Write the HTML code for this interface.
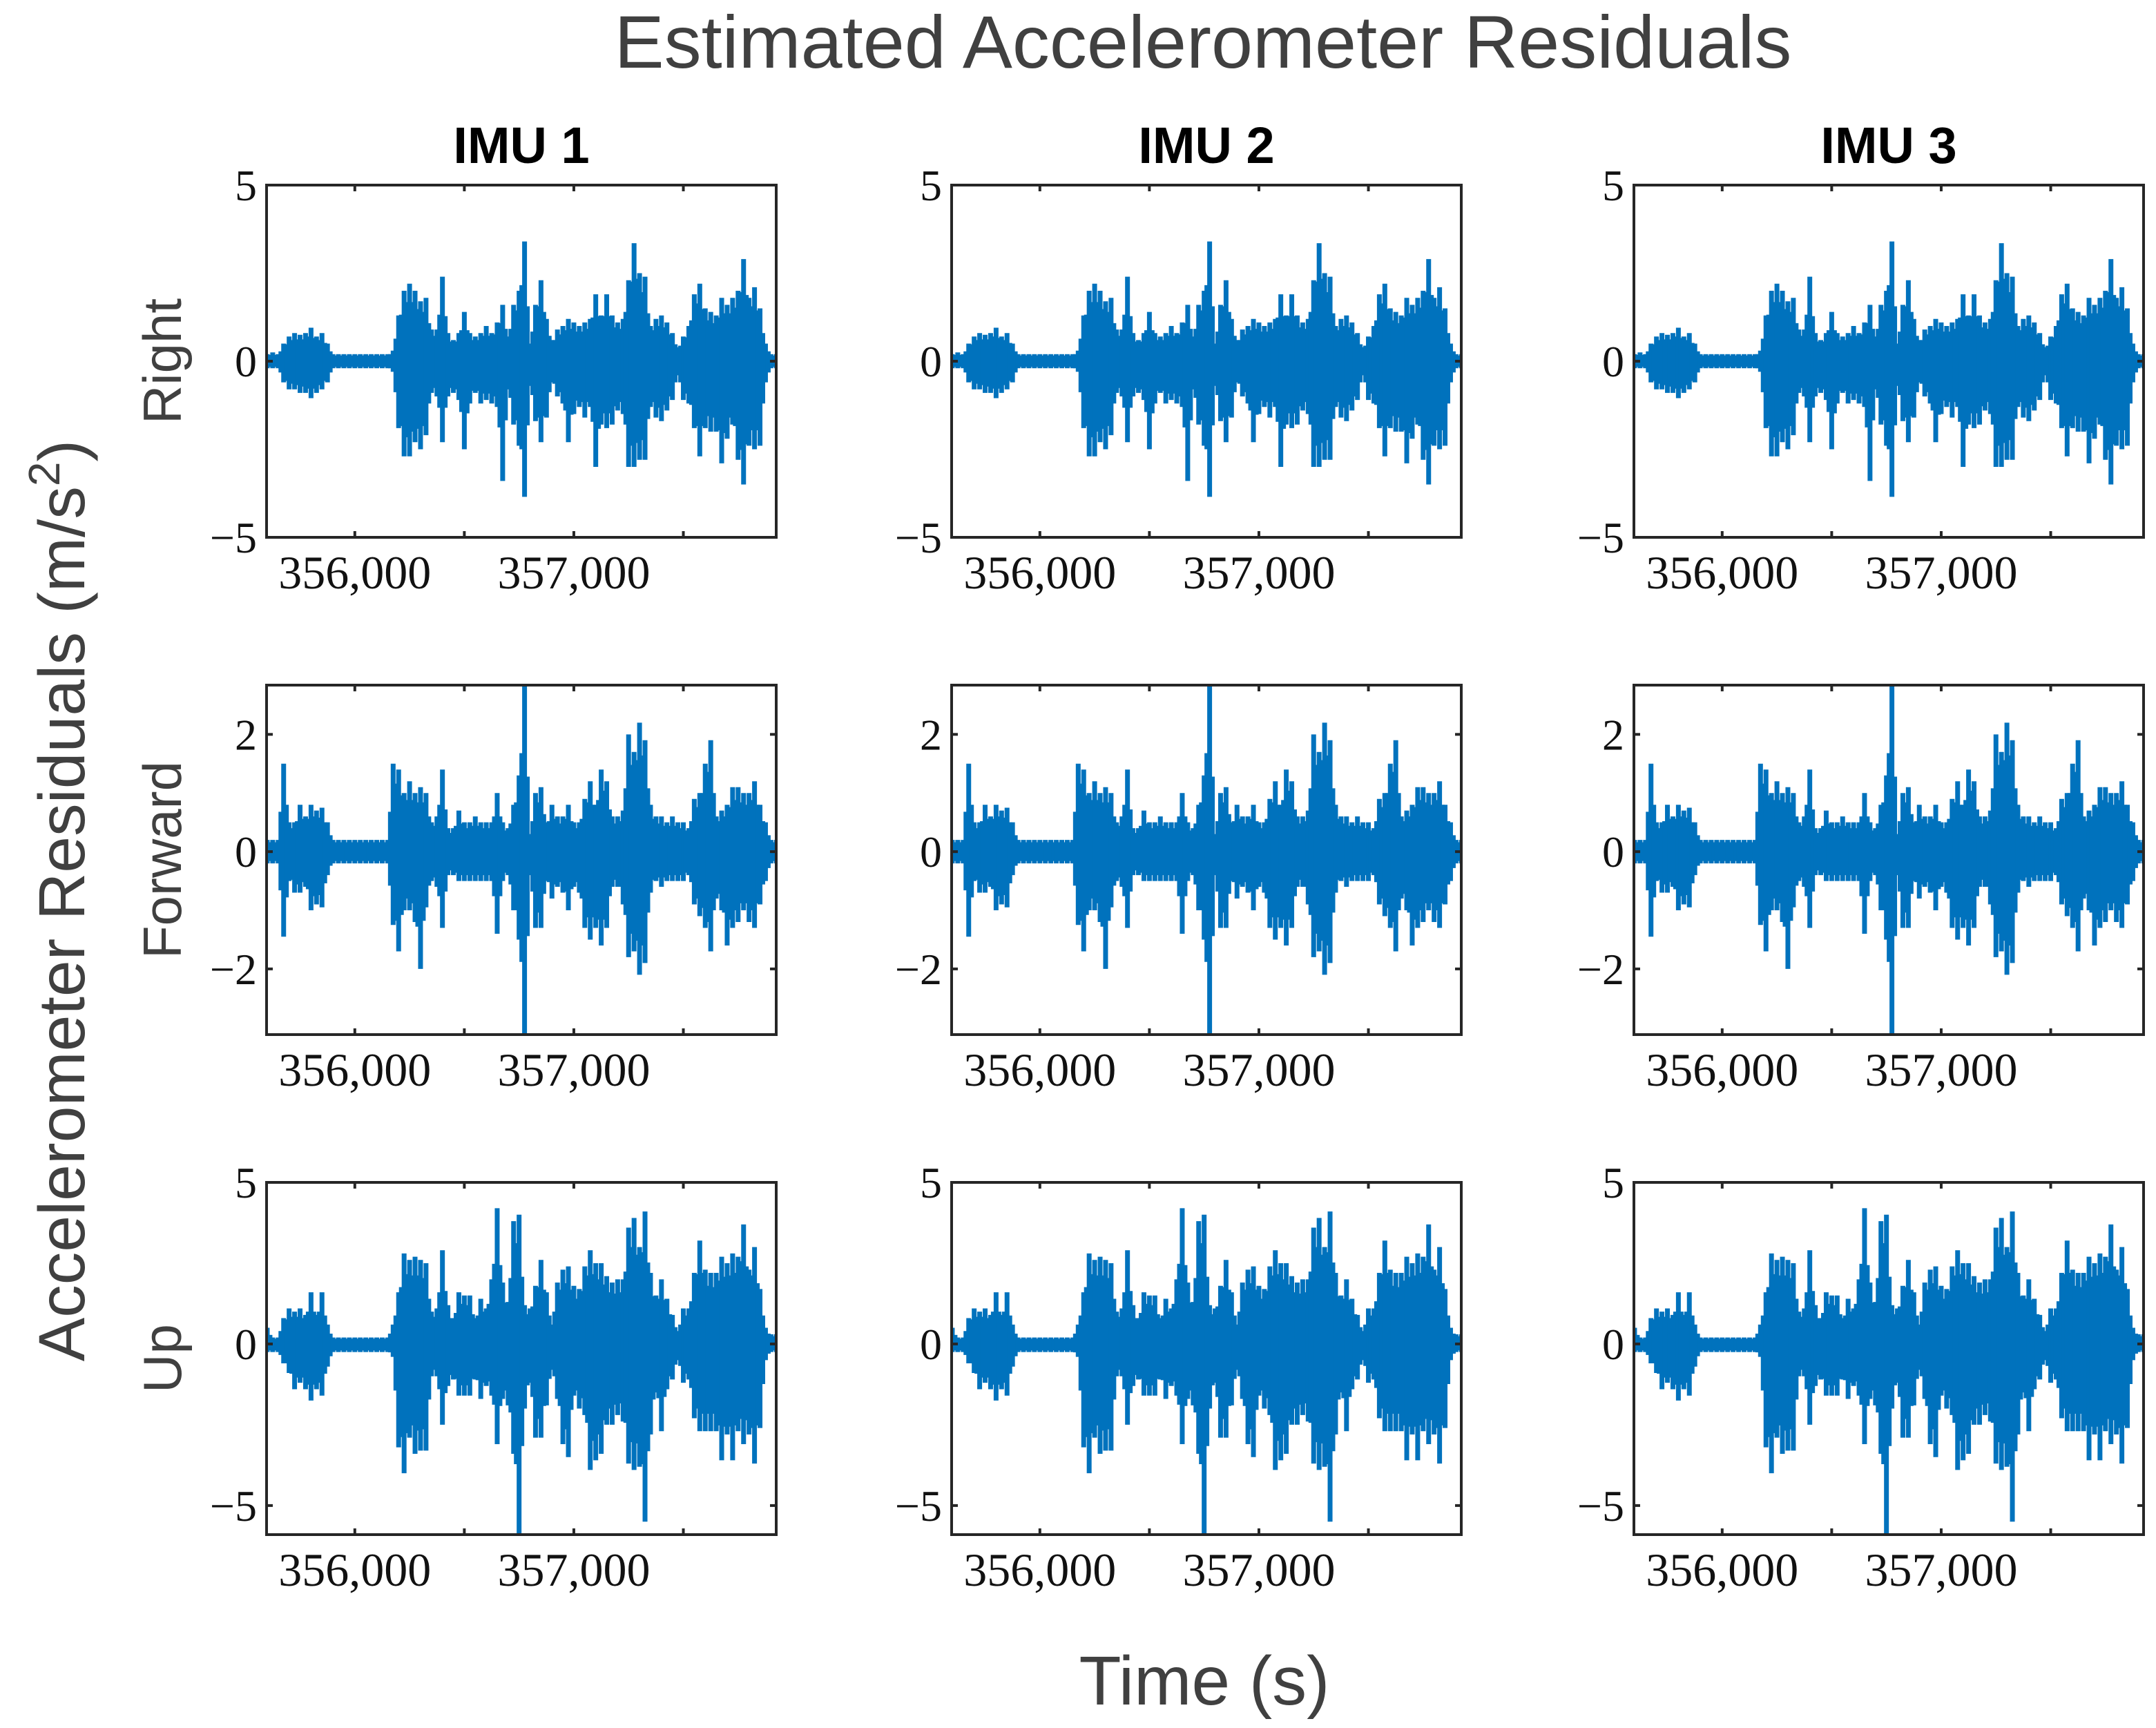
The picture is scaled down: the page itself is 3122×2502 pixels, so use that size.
<!DOCTYPE html>
<html><head><meta charset="utf-8"><style>
html,body{margin:0;padding:0;background:#fff;}
svg{display:block;}
</style></head><body>
<svg id="fig" width="3122" height="2502" viewBox="0 0 3122 2502" xmlns="http://www.w3.org/2000/svg">
<rect width="3122" height="2502" fill="#fff"/>
<text x="1742" y="98" font-family="Liberation Sans, sans-serif" font-size="108" fill="#404040" text-anchor="middle">Estimated Accelerometer Residuals</text>
<text x="1744" y="2468" font-family="Liberation Sans, sans-serif" font-size="100" fill="#404040" text-anchor="middle">Time (s)</text>
<text transform="translate(122,1304) rotate(-90)" font-family="Liberation Sans, sans-serif" font-size="95" fill="#404040" text-anchor="middle">Accelerometer Residuals (m/s<tspan dy="-36" font-size="64">2</tspan><tspan dy="36">)</tspan></text>
<g id="panels"></g>
</svg>
<script>
// ---- data ----
const colTitles = ["IMU 1", "IMU 2", "IMU 3"];
const rowTitles = ["Right", "Forward", "Up"];
const tStart = 355600, tStep = 25; // sample times (categories)
const rightHi = [0.2,0.25,0.2,0.5,0.7,0.8,0.75,0.8,0.95,0.7,0.8,0.5,0.2,0.2,0.2,0.2,0.2,0.2,0.2,0.2,0.2,0.2,0.2,0.3,1.3,2.0,2.2,2.0,1.7,1.8,0.9,0.9,2.4,0.8,0.6,0.8,1.4,0.8,0.7,0.8,1.0,0.8,1.1,1.6,0.7,1.6,2.0,3.4,0.5,1.6,2.3,1.2,0.6,0.9,1.0,1.2,1.1,1.0,1.1,1.2,1.9,1.3,1.9,1.3,1.1,1.2,2.3,3.35,2.5,2.4,1.0,1.2,1.3,1.1,0.8,0.4,0.7,1.0,1.9,2.2,1.5,1.4,1.3,1.8,1.6,1.8,2.0,2.9,1.8,2.1,1.5,0.5,0.2,0.2];
const rightLo = [-0.2,-0.2,-0.2,-0.6,-0.8,-0.8,-0.9,-0.9,-1.05,-0.9,-0.8,-0.6,-0.2,-0.2,-0.2,-0.2,-0.2,-0.2,-0.2,-0.2,-0.2,-0.2,-0.2,-0.3,-1.9,-2.7,-2.7,-2.3,-2.5,-2.1,-0.9,-1.0,-2.3,-1.0,-0.9,-1.1,-2.5,-1.2,-0.9,-1.2,-1.1,-1.2,-1.3,-3.4,-0.8,-1.8,-2.4,-3.85,-0.7,-1.7,-2.3,-1.6,-0.6,-1.0,-1.2,-2.3,-1.5,-1.3,-1.6,-1.3,-3.0,-1.8,-1.9,-1.8,-1.4,-1.5,-3.0,-3.0,-2.8,-2.8,-1.3,-1.6,-1.7,-1.4,-1.1,-0.4,-1.1,-1.2,-1.9,-2.7,-1.9,-2.0,-2.0,-2.9,-2.2,-1.8,-2.8,-3.5,-2.4,-2.5,-2.4,-0.6,-0.2,-0.2];
const fwdHi = [0.2,0.2,0.2,1.5,0.5,0.5,0.8,0.6,0.8,0.7,0.75,0.5,0.2,0.2,0.2,0.2,0.2,0.2,0.2,0.2,0.2,0.2,0.2,1.5,1.4,1.0,1.2,1.0,1.1,1.0,0.5,0.6,1.4,0.4,0.4,0.7,0.5,0.5,0.6,0.5,0.5,0.5,1.0,0.5,0.4,0.8,1.3,2.9,0.3,1.0,1.1,0.5,0.8,0.6,0.6,0.8,0.5,0.5,0.9,1.2,0.8,1.4,1.2,0.6,0.6,0.7,2.0,1.7,2.2,1.9,0.8,0.6,0.6,0.5,0.6,0.5,0.5,0.4,0.9,1.0,1.5,1.9,0.6,0.7,0.8,1.1,1.1,1.0,1.0,1.2,0.8,0.5,0.2,0.2];
const fwdLo = [-0.2,-0.2,-0.2,-1.45,-0.5,-0.7,-0.7,-0.6,-1.0,-0.9,-0.95,-0.4,-0.2,-0.2,-0.2,-0.2,-0.2,-0.2,-0.2,-0.2,-0.2,-0.2,-0.2,-1.25,-1.7,-1.0,-1.0,-1.2,-2.0,-0.95,-0.5,-0.6,-1.3,-0.4,-0.4,-0.5,-0.5,-0.5,-0.5,-0.5,-0.5,-0.5,-1.4,-0.5,-0.4,-1.0,-1.5,-3.2,-0.4,-1.3,-1.3,-0.5,-0.8,-0.6,-0.7,-1.0,-0.6,-0.7,-1.3,-1.5,-1.3,-1.6,-1.3,-0.6,-0.6,-0.9,-1.8,-1.7,-2.1,-1.9,-0.7,-0.5,-0.6,-0.5,-0.5,-0.5,-0.5,-0.4,-0.9,-1.1,-1.3,-1.7,-0.8,-1.0,-1.6,-1.3,-1.2,-1.0,-1.2,-1.3,-0.9,-0.5,-0.2,-0.2];
const upHi = [0.5,0.2,0.2,0.8,1.1,1.0,1.1,0.9,1.6,0.9,1.6,0.6,0.2,0.2,0.2,0.2,0.2,0.2,0.2,0.2,0.2,0.2,0.2,0.6,1.6,2.8,2.6,2.7,2.6,2.5,1.0,1.1,2.9,1.2,0.8,1.6,1.5,1.5,0.8,1.4,1.1,2.0,4.2,1.9,1.3,3.8,4.0,1.2,1.1,1.8,2.6,1.6,0.6,1.9,2.3,2.4,1.8,1.7,2.4,2.9,2.5,2.5,2.1,1.9,2.0,2.0,3.6,3.9,3.0,4.1,2.2,1.5,2.0,1.4,0.9,0.4,1.1,1.1,2.2,3.2,2.3,2.2,2.2,2.7,2.5,2.8,2.7,3.7,2.3,3.0,1.7,0.5,0.3,0.3];
const upLo = [-0.25,-0.25,-0.25,-0.6,-0.9,-1.4,-1.2,-1.4,-1.75,-1.4,-1.6,-0.7,-0.25,-0.25,-0.25,-0.25,-0.25,-0.25,-0.25,-0.25,-0.25,-0.25,-0.25,-0.4,-3.2,-4.0,-2.9,-3.4,-3.3,-3.3,-1.0,-1.0,-2.5,-1.3,-1.1,-1.6,-1.6,-1.6,-1.1,-1.7,-1.3,-1.6,-3.1,-1.7,-1.9,-3.4,-5.9,-2.0,-1.2,-2.9,-2.9,-1.9,-0.8,-1.7,-3.1,-3.5,-1.6,-2.0,-2.2,-3.9,-3.6,-3.4,-2.5,-2.5,-2.2,-2.4,-3.7,-3.9,-3.8,-5.5,-2.8,-1.5,-2.7,-1.4,-1.1,-0.5,-1.2,-1.1,-2.3,-2.7,-2.7,-2.7,-2.7,-3.6,-2.8,-3.6,-2.7,-3.1,-2.8,-3.7,-2.6,-0.5,-0.25,-0.25];
const yLims = [[-5,5],[-3.12,2.84],[-5.9,5]];
const yTicks = [[-5,0,5],[-2,0,2],[-5,0,5]];
const xLim = [355597, 357924];
const xTicks = [355500, 356000, 356500, 357000, 357500];
const xTickLabels = {"356000":"356,000","357000":"357,000"};

// ---- layout ----
const NS = "http://www.w3.org/2000/svg";
const colX = [386, 1378, 2366];
const panelW = 738;
const rowY = [268, 992, 1712];
const rowH = [510, 506, 510];
const seriesHi = [rightHi, fwdHi, upHi];
const seriesLo = [rightLo, fwdLo, upLo];
const g = document.getElementById('panels');
function mk(tag, attrs){const e=document.createElementNS(NS,tag);for(const k in attrs)e.setAttribute(k,attrs[k]);return e;}

for (let c=0;c<3;c++){
  const t = mk('text',{x:colX[c]+panelW/2,y:236,'font-family':'Liberation Sans, sans-serif','font-size':74,'font-weight':'bold','fill':'#000','text-anchor':'middle'});
  t.textContent = colTitles[c];
  
  
  g.appendChild(t);
}
for (let r=0;r<3;r++){
  const cy = rowY[r]+rowH[r]/2;
  const t = mk('text',{transform:`translate(262,${cy}) rotate(-90)`,'font-family':'Liberation Sans, sans-serif','font-size':78,'fill':'#404040','text-anchor':'middle'});
  t.textContent = rowTitles[r];
  
  
  g.appendChild(t);
}

for (let r=0;r<3;r++){
  for (let c=0;c<3;c++){
    const x0=colX[c], y0=rowY[r], w=panelW, h=rowH[r];
    const [ymin,ymax]=yLims[r];
    const sx = v => x0 + (v-xLim[0])/(xLim[1]-xLim[0])*w;
    const sy = v => y0 + (ymax-v)/(ymax-ymin)*h;
    const pg = mk('g',{});
    
    
    g.appendChild(pg);
    const clipId='clip'+r+c;
    const cp = mk('clipPath',{id:clipId});
    cp.appendChild(mk('rect',{x:x0,y:y0,width:w,height:h}));
    pg.appendChild(cp);
    const sg = mk('g',{'clip-path':`url(#${clipId})`});
    
    
    pg.appendChild(sg);
    const hi=seriesHi[r], lo=seriesLo[r];
    const n=hi.length;
    let pts=[];
    for(let i=0;i<n;i++) pts.push(sx(tStart+i*tStep).toFixed(1)+','+sy(hi[i]*0.6).toFixed(1));
    for(let i=n-1;i>=0;i--) pts.push(sx(tStart+i*tStep).toFixed(1)+','+sy(lo[i]*0.6).toFixed(1));
    const band = mk('polygon',{points:pts.join(' '),fill:'#0072BD'});
    
    
    sg.appendChild(band);
    for(let i=0;i<n;i++){
      const xx = sx(tStart+i*tStep);
      const ln = mk('line',{x1:xx,x2:xx,y1:sy(hi[i]),y2:sy(lo[i]),stroke:'#0072BD','stroke-width':7});
      
      
      sg.appendChild(ln);
      if(i<n-1){
        const xm = sx(tStart+(i+0.5)*tStep);
        const a=(hi[i]+hi[i+1])*0.4, b=(lo[i]+lo[i+1])*0.4;
        const l2 = mk('line',{x1:xm,x2:xm,y1:sy(a),y2:sy(b),stroke:'#0072BD','stroke-width':7});
        
        
        sg.appendChild(l2);
      }
    }
    const box = mk('rect',{x:x0,y:y0,width:w,height:h,fill:'none',stroke:'#262626','stroke-width':4});
    
    
    pg.appendChild(box);
    xTicks.forEach(tv=>{
      if(tv<xLim[0]||tv>xLim[1]) return;
      const xx=sx(tv);
      pg.appendChild(mk('line',{x1:xx,x2:xx,y1:y0,y2:y0+9,stroke:'#262626','stroke-width':4}));
      pg.appendChild(mk('line',{x1:xx,x2:xx,y1:y0+h,y2:y0+h-9,stroke:'#262626','stroke-width':4}));
      const lab = xTickLabels[String(tv)];
      if(lab){
        const t = mk('text',{x:xx,y:y0+h+74,'font-family':'Liberation Serif, serif','font-size':68,'fill':'#111','text-anchor':'middle'});
        t.textContent = lab;
        
        
        pg.appendChild(t);
      }
    });
    yTicks[r].forEach(v=>{
      const yy=sy(v);
      pg.appendChild(mk('line',{x1:x0,x2:x0+9,y1:yy,y2:yy,stroke:'#262626','stroke-width':4}));
      pg.appendChild(mk('line',{x1:x0+w,x2:x0+w-9,y1:yy,y2:yy,stroke:'#262626','stroke-width':4}));
      const t = mk('text',{x:x0-14,y:yy+22,'font-family':'Liberation Serif, serif','font-size':64,'fill':'#111','text-anchor':'end'});
      t.textContent = v<0 ? '\u2212'+Math.abs(v) : String(v);
      
      
      pg.appendChild(t);
    });
  }
}
</script>
</body></html>
